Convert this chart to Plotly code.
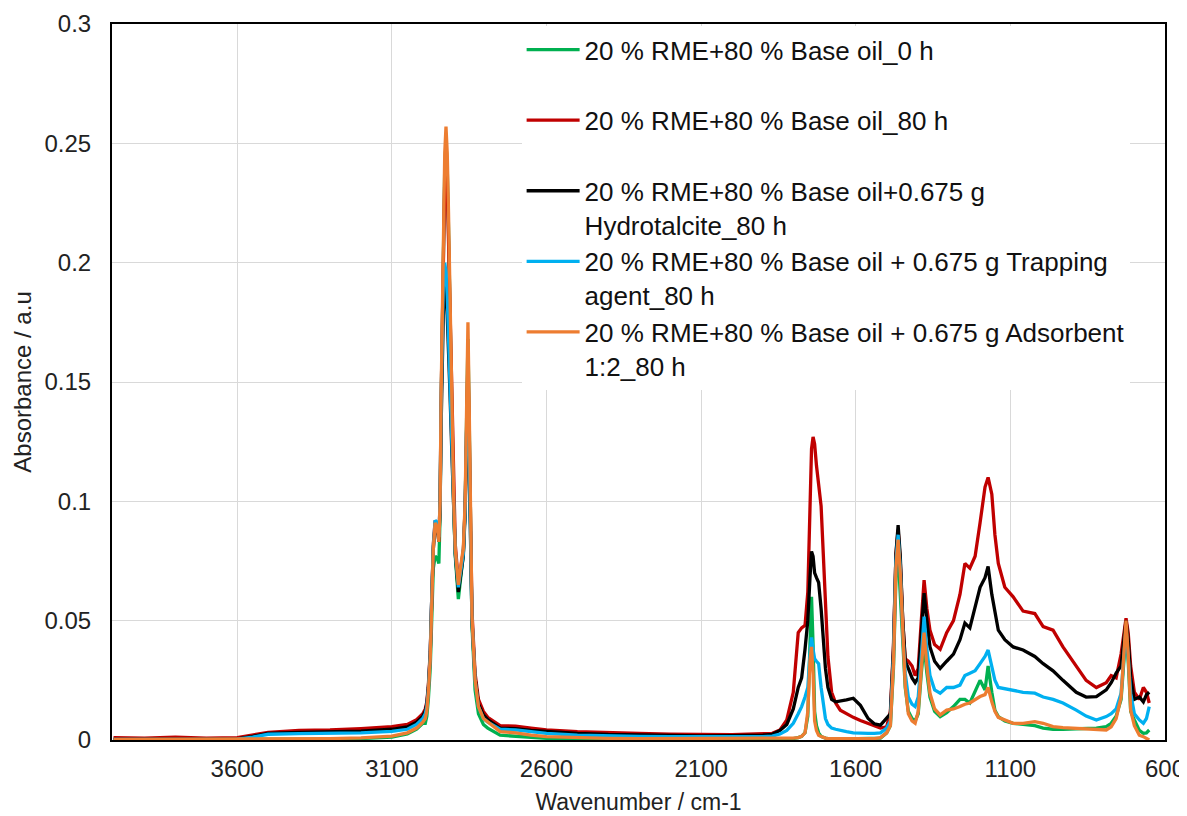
import plotly.graph_objects as go

# ---- wavenumber grid (cm-1), split into spectral regions ----
wn_a = [4000, 3900, 3800, 3700, 3600, 3550, 3500, 3400, 3300, 3200, 3100, 3050, 3020, 3000]
wn_b = [2992, 2987, 2982, 2976, 2971, 2966, 2960, 2953, 2948, 2944, 2941, 2937, 2933, 2929, 2925,
        2921, 2917, 2912, 2906, 2900, 2895, 2885, 2874, 2869, 2863, 2859, 2854, 2850, 2847, 2841,
        2831, 2820, 2804, 2790]
wn_c = [2750, 2700, 2650, 2600, 2500, 2400, 2300, 2200, 2100, 2000, 1950, 1900, 1870]
wn_d = [1845, 1823, 1802, 1786, 1775, 1764, 1755, 1748, 1743, 1738, 1733, 1727, 1720, 1712, 1705,
        1698, 1690, 1678, 1665, 1650, 1630, 1608, 1585, 1560, 1540, 1520, 1500]
wn_e = [1488, 1478, 1470, 1463, 1456, 1448, 1440, 1430, 1418, 1408, 1398, 1388, 1379, 1370, 1360,
        1345, 1327]
wn_f = [1306, 1284, 1263, 1247, 1231, 1214, 1198, 1182, 1172, 1160, 1150, 1139, 1118, 1091, 1059,
        1021, 994, 962, 930, 887, 855, 822, 790]
wn_g = [774, 758, 742, 733, 726, 719, 711, 699, 683, 670, 660, 651]

# ---- absorbance per series, same region split ----
green_a = [0.0002, 0.0002, 0.0002, 0.0002, 0.0002, 0.0002, 0.0003, 0.0003, 0.0004, 0.0006, 0.0012, 0.0025, 0.0045, 0.007]
green_b = [0.007, 0.010, 0.017, 0.030, 0.055, 0.072, 0.077, 0.076, 0.074, 0.095, 0.138, 0.180, 0.218, 0.240, 0.250,
           0.240, 0.215, 0.178, 0.138, 0.097, 0.077, 0.059, 0.072, 0.078, 0.098, 0.135, 0.168, 0.135, 0.095, 0.048,
           0.021, 0.011, 0.0065, 0.005]
green_c = [0.002, 0.0015, 0.001, 0.0007, 0.0005, 0.0004, 0.0003, 0.0003, 0.0003, 0.0003, 0.0003, 0.0003, 0.0003]
green_d = [0.0003, 0.0004, 0.0006, 0.001, 0.0015, 0.003, 0.010, 0.040, 0.060, 0.040, 0.012, 0.006, 0.003, 0.0015, 0.001,
           0.0008, 0.0006, 0.0005, 0.0005, 0.0005, 0.0005, 0.0005, 0.0005, 0.0005, 0.0005, 0.0008, 0.003]
green_e = [0.006, 0.030, 0.068, 0.078, 0.062, 0.038, 0.022, 0.012, 0.009, 0.008, 0.011, 0.028, 0.040, 0.028, 0.018,
           0.012, 0.0098]
green_f = [0.0115, 0.014, 0.017, 0.017, 0.0155, 0.020, 0.025, 0.021, 0.031, 0.020, 0.0125, 0.0098, 0.008, 0.007, 0.0065,
           0.006, 0.005, 0.0045, 0.0045, 0.0048, 0.005, 0.005, 0.0056]
green_g = [0.007, 0.010, 0.017, 0.033, 0.045, 0.033, 0.012, 0.0084, 0.004, 0.0028, 0.003, 0.0042]

red_a = [0.001, 0.0008, 0.0012, 0.0008, 0.001, 0.002, 0.0032, 0.004, 0.0042, 0.0048, 0.0056, 0.0065, 0.0085, 0.011]
red_b = [0.013, 0.016, 0.023, 0.037, 0.062, 0.082, 0.092, 0.090, 0.085, 0.100, 0.140, 0.180, 0.215, 0.235, 0.242,
         0.232, 0.210, 0.178, 0.140, 0.102, 0.082, 0.066, 0.075, 0.079, 0.098, 0.132, 0.160, 0.130, 0.098, 0.054,
         0.028, 0.017, 0.012, 0.0095]
red_c = [0.006, 0.0058, 0.005, 0.0042, 0.0035, 0.003, 0.0028, 0.0025, 0.0022, 0.0022, 0.0024, 0.0025, 0.0028]
red_d = [0.0042, 0.0084, 0.020, 0.045, 0.047, 0.048, 0.062, 0.098, 0.122, 0.127, 0.124, 0.115, 0.107, 0.098, 0.078,
         0.055, 0.035, 0.020, 0.0155, 0.0125, 0.011, 0.0095, 0.0082, 0.007, 0.0058, 0.005, 0.0055]
red_e = [0.012, 0.040, 0.078, 0.088, 0.075, 0.050, 0.034, 0.033, 0.031, 0.027, 0.030, 0.050, 0.067, 0.055, 0.046,
         0.040, 0.038]
red_f = [0.045, 0.050, 0.061, 0.074, 0.072, 0.077, 0.091, 0.106, 0.110, 0.103, 0.086, 0.074, 0.064, 0.060, 0.054,
         0.053, 0.0475, 0.046, 0.039, 0.031, 0.025, 0.022, 0.024]
red_g = [0.027, 0.026, 0.036, 0.045, 0.051, 0.045, 0.031, 0.020, 0.017, 0.022, 0.020, 0.0155]

black_a = [0.0003, 0.0003, 0.0004, 0.0003, 0.0005, 0.0015, 0.0028, 0.0032, 0.0034, 0.0037, 0.0045, 0.0055, 0.0075, 0.010]
black_b = [0.012, 0.015, 0.022, 0.036, 0.060, 0.080, 0.090, 0.088, 0.083, 0.098, 0.130, 0.160, 0.183, 0.190, 0.186,
           0.178, 0.165, 0.145, 0.120, 0.095, 0.078, 0.062, 0.072, 0.077, 0.095, 0.122, 0.133, 0.118, 0.094, 0.050,
           0.026, 0.015, 0.0105, 0.0085]
black_c = [0.005, 0.0048, 0.004, 0.0035, 0.0028, 0.0023, 0.002, 0.0018, 0.0017, 0.0018, 0.0019, 0.002, 0.0024]
black_d = [0.004, 0.0065, 0.013, 0.022, 0.026, 0.038, 0.050, 0.068, 0.079, 0.077, 0.070, 0.068, 0.066, 0.055, 0.043,
           0.030, 0.022, 0.017, 0.016, 0.0162, 0.0168, 0.0175, 0.0145, 0.009, 0.0068, 0.0062, 0.009]
black_e = [0.011, 0.038, 0.078, 0.090, 0.077, 0.050, 0.033, 0.030, 0.026, 0.024, 0.026, 0.045, 0.0615, 0.050, 0.039,
           0.033, 0.030]
black_f = [0.033, 0.036, 0.042, 0.049, 0.047, 0.056, 0.064, 0.068, 0.0727, 0.061, 0.053, 0.046, 0.042, 0.039, 0.0377,
           0.035, 0.032, 0.029, 0.025, 0.020, 0.018, 0.0182, 0.021]
black_g = [0.024, 0.028, 0.031, 0.042, 0.050, 0.042, 0.026, 0.017, 0.018, 0.016, 0.019, 0.020]

blue_a = [0.0002, 0.0002, 0.0002, 0.0002, 0.0004, 0.0012, 0.0024, 0.0027, 0.0028, 0.003, 0.0036, 0.0045, 0.0065, 0.009]
blue_b = [0.011, 0.014, 0.021, 0.035, 0.060, 0.081, 0.092, 0.091, 0.085, 0.100, 0.138, 0.175, 0.196, 0.200, 0.196,
          0.186, 0.170, 0.150, 0.125, 0.097, 0.079, 0.064, 0.074, 0.078, 0.097, 0.128, 0.140, 0.124, 0.097, 0.051,
          0.025, 0.014, 0.009, 0.0075]
blue_c = [0.0045, 0.0042, 0.0035, 0.0028, 0.002, 0.0016, 0.0015, 0.0014, 0.0013, 0.0013, 0.0013, 0.0014, 0.0016]
blue_d = [0.0025, 0.004, 0.007, 0.011, 0.014, 0.018, 0.022, 0.036, 0.043, 0.038, 0.034, 0.033, 0.032, 0.022, 0.014,
          0.009, 0.0065, 0.005, 0.0045, 0.0042, 0.0035, 0.003, 0.0028, 0.0028, 0.0028, 0.003, 0.005]
blue_e = [0.008, 0.035, 0.075, 0.086, 0.072, 0.045, 0.028, 0.018, 0.015, 0.014, 0.018, 0.035, 0.0517, 0.038, 0.027,
          0.021, 0.0196]
blue_f = [0.022, 0.022, 0.023, 0.027, 0.028, 0.029, 0.032, 0.035, 0.0377, 0.030, 0.025, 0.022, 0.0215, 0.021, 0.020,
          0.0196, 0.018, 0.017, 0.0155, 0.0125, 0.010, 0.0084, 0.0098]
blue_g = [0.011, 0.013, 0.0196, 0.035, 0.047, 0.035, 0.0196, 0.011, 0.0084, 0.007, 0.009, 0.014]

orange_a = [0.0003, 0.0003, 0.0003, 0.0003, 0.0003, 0.0003, 0.0004, 0.0005, 0.0006, 0.0009, 0.0016, 0.003, 0.005, 0.0075]
orange_b = [0.009, 0.012, 0.020, 0.034, 0.060, 0.080, 0.091, 0.089, 0.083, 0.100, 0.142, 0.184, 0.222, 0.246, 0.257,
            0.246, 0.222, 0.184, 0.142, 0.100, 0.080, 0.065, 0.076, 0.080, 0.100, 0.140, 0.175, 0.140, 0.100, 0.052,
            0.025, 0.014, 0.009, 0.0075]
orange_c = [0.0035, 0.003, 0.002, 0.0014, 0.0009, 0.0007, 0.0006, 0.0006, 0.0006, 0.0006, 0.0006, 0.0006, 0.0006]
orange_d = [0.0006, 0.0006, 0.0008, 0.001, 0.0015, 0.003, 0.012, 0.033, 0.039, 0.028, 0.008, 0.004, 0.002, 0.0015, 0.001,
            0.0008, 0.0006, 0.0006, 0.0006, 0.0006, 0.0006, 0.0006, 0.0006, 0.0006, 0.0006, 0.001, 0.003]
orange_e = [0.006, 0.032, 0.072, 0.084, 0.070, 0.042, 0.023, 0.011, 0.008, 0.007, 0.012, 0.030, 0.045, 0.031, 0.0196,
            0.013, 0.0105]
orange_f = [0.0125, 0.013, 0.014, 0.015, 0.0155, 0.017, 0.0182, 0.019, 0.022, 0.016, 0.012, 0.0095, 0.0084, 0.007, 0.007,
            0.0077, 0.007, 0.0056, 0.0052, 0.0049, 0.0049, 0.0045, 0.0042]
orange_g = [0.0055, 0.009, 0.018, 0.036, 0.050, 0.036, 0.0125, 0.006, 0.002, 0.0014, 0.0005, 0.0]

series_names = [
    "20 % RME+80 % Base oil_0 h",
    "20 % RME+80 % Base oil_80 h",
    "20 % RME+80 % Base oil+0.675 g<br>Hydrotalcite_80 h",
    "20 % RME+80 % Base oil + 0.675 g Trapping<br>agent_80 h",
    "20 % RME+80 % Base oil + 0.675 g Adsorbent<br>1:2_80 h",
]
series_colors = ["#00B050", "#C00000", "#000000", "#00B0F0", "#ED7D31"]
x_tick_values = [3600, 3100, 2600, 2100, 1600, 1100, 600]
y_tick_values = [0, 0.05, 0.1, 0.15, 0.2, 0.25, 0.3]
y_tick_labels = ["0", "0.05", "0.1", "0.15", "0.2", "0.25", "0.3"]

wavenumber = wn_a + wn_b + wn_c + wn_d + wn_e + wn_f + wn_g
series_values = [
    green_a + green_b + green_c + green_d + green_e + green_f + green_g,
    red_a + red_b + red_c + red_d + red_e + red_f + red_g,
    black_a + black_b + black_c + black_d + black_e + black_f + black_g,
    blue_a + blue_b + blue_c + blue_d + blue_e + blue_f + blue_g,
    orange_a + orange_b + orange_c + orange_d + orange_e + orange_f + orange_g,
]

FONT = "Liberation Sans, Arial, sans-serif"

fig = go.Figure()
for name, col, vals in zip(series_names, series_colors, series_values):
    label = name if "<br>" in name else name + "<br> "
    fig.add_trace(go.Scatter(
        x=wavenumber, y=vals, mode="lines", name=label,
        line=dict(color=col, width=3.3),
    ))

# the page body adds an 8px offset, so the figure is sized 8px smaller
fig.update_layout(
    width=1179, height=808,
    margin=dict(l=104, r=22, t=16, b=76),
    paper_bgcolor="white", plot_bgcolor="white",
    font=dict(family=FONT, size=24, color="#222222"),
    showlegend=True,
    legend=dict(
        x=0.389, y=0.997, xanchor="left", yanchor="top",
        bgcolor="white", borderwidth=0,
        font=dict(family=FONT, size=26, color="#111111"),
        valign="top", tracegroupgap=0, itemwidth=53,
    ),
)
fig.update_xaxes(
    range=[4005, 600], tickmode="array", tickvals=x_tick_values,
    ticktext=[str(v) for v in x_tick_values],
    showgrid=True, gridcolor="#D9D9D9", gridwidth=1,
    showline=True, linecolor="black", linewidth=2, mirror=True,
    ticks="", zeroline=False, ticklabelstandoff=6, automargin=False,
    title=dict(text="Wavenumber / cm-1", font=dict(size=23, family=FONT, color="#222222"), standoff=13),
)
fig.update_yaxes(
    range=[0, 0.3], tickmode="array", tickvals=y_tick_values, ticktext=y_tick_labels,
    showgrid=True, gridcolor="#D9D9D9", gridwidth=1,
    showline=True, linecolor="black", linewidth=2, mirror=True,
    ticks="", zeroline=False, ticklabelstandoff=14, automargin=False,
    title=dict(text="Absorbance / a.u", font=dict(size=24, family=FONT, color="#222222"), standoff=6),
)

fig.write_html("out.html")
